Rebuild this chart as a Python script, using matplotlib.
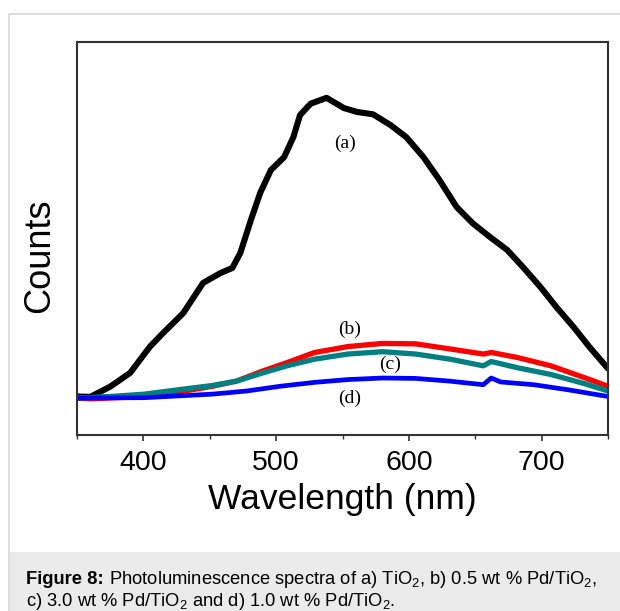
import matplotlib.pyplot as plt
from matplotlib.patches import Rectangle

# wavelength (nm) / counts (arb. units)
wl_a = [350, 360, 375, 390, 405, 415, 430, 445, 458, 467, 473, 481, 488, 496, 506,
        513, 518, 526, 538, 551, 561, 573, 586, 598, 611, 623, 636, 648, 661, 674,
        686, 699, 711, 724, 736, 749]
counts_a = [9.8, 9.7, 12.3, 15.8, 22.5, 26.0, 31.0, 38.7, 41.2, 42.5, 46.3, 54.7,
            61.6, 67.4, 70.7, 75.8, 81.4, 84.3, 85.8, 83.2, 82.2, 81.6, 78.9, 75.8,
            70.7, 64.9, 58.0, 53.9, 50.4, 47.1, 42.7, 37.7, 32.6, 27.5, 22.4, 17.3]

wl_b = [350, 360, 401, 426, 452, 470, 490, 508, 529, 554, 580, 605, 631, 656, 662,
        682, 707, 733, 750]
counts_b = [9.4, 9.2, 9.8, 10.9, 12.4, 13.7, 16.3, 18.4, 21.0, 22.5, 23.3, 23.2,
            21.9, 20.6, 21.0, 19.7, 17.6, 14.5, 12.4]

wl_c = [350, 375, 401, 426, 452, 470, 490, 508, 529, 554, 580, 605, 631, 656, 662,
        682, 707, 733, 750]
counts_c = [9.4, 9.8, 10.4, 11.5, 12.6, 13.7, 15.8, 17.6, 19.3, 20.6, 21.2, 20.6,
            19.3, 17.6, 18.7, 17.1, 15.4, 13.0, 11.2]

wl_d = [350, 401, 452, 478, 503, 529, 554, 580, 605, 631, 656, 662, 669, 694, 720, 750]
counts_d = [9.4, 9.5, 10.4, 11.2, 12.4, 13.4, 14.1, 14.5, 14.4, 13.7, 12.8, 14.5,
            13.5, 12.8, 11.5, 9.8]

labels = ["(a)", "(b)", "(c)", "(d)"]
label_pos = [(552, 74.3), (555, 27.0), (586, 18.1), (555, 9.4)]

plt.rcParams["mathtext.default"] = "regular"
fig = plt.figure(figsize=(6.2, 6.11), dpi=100)

# card frame and caption background
fig.patches.append(Rectangle((9 / 620, -0.01), 1.0, 1.01 - 14 / 611, transform=fig.transFigure,
                             facecolor="white", edgecolor="#d8d8d8", lw=1.2, zorder=-2))
fig.patches.append(Rectangle((9.6 / 620, 0), 1.0, 59 / 611, transform=fig.transFigure,
                             facecolor="#ebebeb", edgecolor="none", zorder=-1))

ax = fig.add_axes([77 / 620, 1 - 435 / 611, 531 / 620, 393 / 611])
ax.plot(wl_a, counts_a, color="black", lw=4.4, solid_joinstyle="round")
ax.plot(wl_b, counts_b, color="#ff0000", lw=3.8, solid_joinstyle="round")
ax.plot(wl_c, counts_c, color="#008080", lw=3.8, solid_joinstyle="round")
ax.plot(wl_d, counts_d, color="#0000ff", lw=3.4, solid_joinstyle="round")

for lab, (x, y) in zip(labels, label_pos):
    ax.text(x, y, lab, family="Liberation Serif", fontsize=14, ha="center", va="center")

ax.set_xlim(350, 750)
ax.set_ylim(0, 100)
ax.set_xticks([400, 500, 600, 700])
ax.set_xticks(range(350, 751, 50), minor=True)
ax.set_yticks([])
ax.tick_params(axis="x", which="major", direction="out", length=4, width=1.2,
               labelsize=20.5, pad=7, color="#333333")
ax.tick_params(axis="x", which="minor", direction="out", length=3, width=1.0, color="#333333")
for lab in ax.get_xticklabels():
    lab.set_family("Liberation Sans")
for sp in ax.spines.values():
    sp.set_color("#333333")
    sp.set_linewidth(1.5)

ax.set_xlabel("Wavelength (nm)", family="Liberation Sans", fontsize=25.5, labelpad=5)
fig.text(40 / 620, 1 - 256 / 611, "Counts", family="Liberation Sans", fontsize=26,
         rotation=90, ha="center", va="center")

# caption
cap_font = dict(family="Liberation Sans", fontsize=13.2, va="baseline")
y1 = 1 - 584 / 611
t1 = fig.text(26 / 620, y1, "Figure 8:", fontweight="bold", **cap_font)
w1 = t1.get_window_extent(renderer=fig.canvas.get_renderer()).width
fig.text((26 + w1) / 620, y1, " Photoluminescence spectra of a) TiO$_2$, b) 0.5 wt % Pd/TiO$_2$,",
         **cap_font)
fig.text(26 / 620, 1 - 606 / 611, "c) 3.0 wt % Pd/TiO$_2$ and d) 1.0 wt % Pd/TiO$_2$.",
         **cap_font)

fig.savefig("out.png", dpi=100)
